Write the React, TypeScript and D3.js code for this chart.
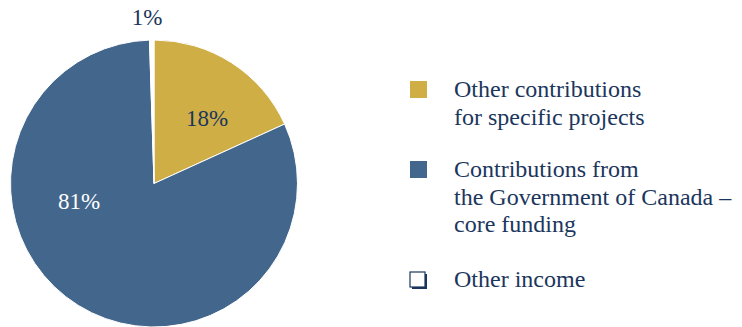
import React from "react";
import * as d3 from "d3";

const categories = ["Other contributions for specific projects", "Contributions from the Government of Canada – core funding", "Other income"];
const values = [18.2, 81.3, 0.5];
const sliceLabels = ["18%", "81%", "1%"];
const colors = ["#CFAE45", "#43668C", "#FFFFFF"];
const legendLines = [
  ["Other contributions", "for specific projects"],
  ["Contributions from", "the Government of Canada –", "core funding"],
  ["Other income"],
];

const W = 742;
const H = 327;
const cx = 154;
const cy = 183.5;
const R = 143.5;
const TEXT = "#1B365D";
const FONT = "Liberation Serif";

export default function App() {
  const pie = d3.pie<number>().sort(null).value((d) => d)(values);
  const arc = d3.arc<d3.PieArcDatum<number>>().innerRadius(0).outerRadius(R);
  const labelPos: [number, number][] = [
    [207, 126],
    [79, 209],
    [147, 25],
  ];
  const labelColor = [TEXT, "#FFFFFF", TEXT];
  const legendX = 410;
  const textX = 454;
  const legendTops = [97, 177, 287];
  const lineH = 27.5;
  return (
    <svg width={W} height={H} style={{ position: "absolute", left: 0, top: 0, display: "block" }}>
      <rect width={W} height={H} fill="#fff" />
      <g transform={`translate(${cx},${cy})`}>
        {pie.map((p, i) => (
          <path
            key={i}
            d={arc(p) || ""}
            fill={colors[i]}
            stroke="#FFFFFF"
            strokeWidth={1}
          />
        ))}
      </g>
      {sliceLabels.map((t, i) => (
        <text
          key={i}
          x={labelPos[i][0]}
          y={labelPos[i][1]}
          textAnchor="middle"
          fontFamily={FONT}
          fontSize={23}
          fill={labelColor[i]}
        >
          {t}
        </text>
      ))}
      {categories.map((c, i) => (
        <g key={c}>
          {i < 2 ? (
            <rect x={legendX} y={legendTops[i] - 16} width={17} height={17} fill={colors[i]} />
          ) : (
            <g>
              <rect x={legendX + 2} y={legendTops[i] - 13} width={15} height={15} fill={TEXT} />
              <rect x={legendX} y={legendTops[i] - 15} width={15} height={15} fill="#fff" stroke={TEXT} strokeWidth={1.2} />
            </g>
          )}
          {legendLines[i].map((ln, j) => (
            <text
              key={j}
              x={textX}
              y={legendTops[i] + j * lineH}
              fontFamily={FONT}
              fontSize={24}
              fill={TEXT}
            >
              {ln}
            </text>
          ))}
        </g>
      ))}
    </svg>
  );
}
